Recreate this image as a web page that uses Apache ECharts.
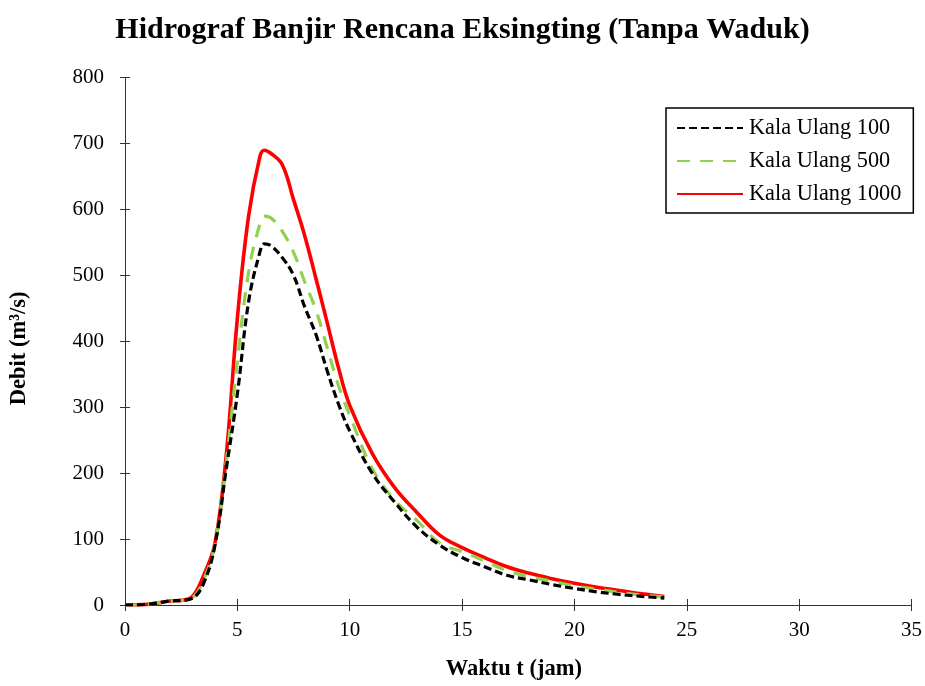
<!DOCTYPE html>
<html>
<head>
<meta charset="utf-8">
<script src="https://cdn.jsdelivr.net/npm/echarts@6/dist/echarts.min.js"></script>
<style>html,body{margin:0;padding:0;background:#fff;overflow:hidden;}#c{width:925px;height:686px;}</style>
</head>
<body>
<div id="c"></div>
<script>
const timeJam = [0,1,2,2.5,3,3.5,4,4.5,5,5.5,6,6.2,6.5,7,7.5,8,8.5,9,9.5,10,11,12,13,14,15,16,17,18,19,20,21,22,23,24];
const q100  = [0,1,6,7,10,33,90,205,320,460,535,548,545,527,500,452,410,355,305,264,200,156,118,91,72,58,45,38,31,25,20,16,13,10.5];
const q500  = [0,1,6,7,11,38,92,215,370,505,578,590,587,567,535,490,447,390,333,288,207,159,128,94,81,67,52,43,36,29,24,19,15,12];
const q1000 = [0,1,6,7,13,45,93,225,435,590,680,690,685,668,615,560,495,428,360,303,230,178,140,106,87,72,58,48,40,33,27,22,17,13];
const seriesNames = ['Kala Ulang 100','Kala Ulang 500','Kala Ulang 1000'];
const xTicks = [0,5,10,15,20,25,30,35];
const yTicks = [0,100,200,300,400,500,600,700,800];

const pair = arr => timeJam.map((t,i)=>[t,arr[i]]);
const font = 'Liberation Serif, Times New Roman, serif';
const axisCol = '#333';

const chart = echarts.init(document.getElementById('c'), null, {renderer:'canvas'});
const baseX = {
  type:'value', min:xTicks[0], max:xTicks[xTicks.length-1], interval:5,
  splitLine:{show:false},
  axisLine:{lineStyle:{color:axisCol,width:1}},
};
const baseY = {
  type:'value', min:yTicks[0], max:yTicks[yTicks.length-1], interval:100,
  splitLine:{show:false},
  axisLine:{show:true,lineStyle:{color:axisCol,width:1}},
};
chart.setOption({
  animation:false,
  backgroundColor:'#fff',
  title:{
    text:'Hidrograf Banjir Rencana Eksingting (Tanpa Waduk)',
    left:'center', top:10,
    textStyle:{fontFamily:font,fontSize:30,fontWeight:'bold',color:'#000'}
  },
  grid:{left:124,width:788,top:77.7,height:531,containLabel:false},
  legend:{
    orient:'vertical', left:666, top:108,
    itemWidth:66, itemHeight:14, itemGap:11,
    padding:[9,12,8,10],
    borderColor:'#000', borderWidth:1.5,
    itemStyle:{color:'rgba(0,0,0,0)',borderWidth:0,opacity:0},
    textStyle:{fontFamily:font,fontSize:22.3,color:'#000',padding:[0,0,0,1]},
    data:seriesNames
  },
  xAxis:[
    Object.assign({}, baseX, {
      name:'Waktu t (jam)', nameLocation:'middle', nameGap:53,
      nameTextStyle:{fontFamily:font,fontSize:22.5,fontWeight:'bold',color:'#000',padding:[0,9,0,0]},
      axisTick:{show:true,inside:false,length:6,lineStyle:{color:axisCol}},
      axisLabel:{fontFamily:font,fontSize:21,color:'#000',margin:15}
    }),
    Object.assign({}, baseX, {
      position:'bottom',
      axisTick:{show:true,inside:true,length:6,lineStyle:{color:axisCol}},
      axisLabel:{show:false}
    })
  ],
  yAxis:[
    Object.assign({}, baseY, {
      name:'Debit (m³/s)', nameLocation:'middle', nameGap:94, nameRotate:90,
      nameTextStyle:{fontFamily:font,fontSize:22.5,fontWeight:'bold',color:'#000',padding:[0,14,0,0]},
      axisTick:{show:true,inside:false,length:5,lineStyle:{color:axisCol}},
      axisLabel:{fontFamily:font,fontSize:21,color:'#000',margin:21}
    }),
    Object.assign({}, baseY, {
      position:'left',
      axisTick:{show:true,inside:true,length:5,lineStyle:{color:axisCol}},
      axisLabel:{show:false}
    })
  ],
  series:[
    {name:seriesNames[0],type:'line',data:pair(q100),smooth:0.4,symbol:'none',
     lineStyle:{color:'#000',width:3.2,type:[8,4]},itemStyle:{color:'#000'},z:4},
    {name:seriesNames[1],type:'line',data:pair(q500),smooth:0.4,symbol:'none',
     lineStyle:{color:'#92D050',width:3.2,type:[13,10]},itemStyle:{color:'#92D050'},z:3},
    {name:seriesNames[2],type:'line',data:pair(q1000),smooth:0.4,symbol:'none',
     lineStyle:{color:'#FF0000',width:3.6,type:'solid'},itemStyle:{color:'#FF0000'},z:2}
  ]
});
</script>
</body>
</html>
